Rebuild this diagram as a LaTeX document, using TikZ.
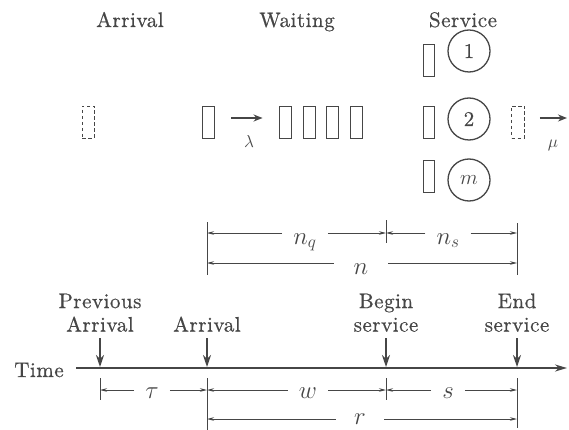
\documentclass[tikz,border=0pt]{standalone}
\usepackage{fontspec}
\usetikzlibrary{arrows.meta}
\newfontfamily\labfont{lmroman10-regular}[Extension=.otf, LetterSpace=2.5, FakeBold=0.6]
\definecolor{ink}{RGB}{70,70,70}
\begin{document}
\begin{tikzpicture}[x=1pt,y=-1pt,
  every node/.style={text=ink},
  lbl/.style={font=\fontsize{21}{23.5}\labfont, align=center},
  qbox/.style={draw=ink, line width=0.9pt, minimum width=12pt, minimum height=32pt, inner sep=0pt},
  ghost/.style={qbox, dash pattern=on 3.5pt off 2.5pt},
  server/.style={draw=ink, circle, line width=1.3pt, minimum size=42pt, inner sep=0pt, font=\fontsize{21}{22}\labfont},
  flow/.style={draw=ink, line width=1.8pt, -{Stealth[length=9pt,width=7pt]}},
  bar/.style={draw=ink, line width=0.8pt},
  dim/.style={draw=ink, line width=0.8pt, -{Stealth[length=7pt,width=3.5pt]}},
  dlbl/.style={font=\fontsize{23}{25}\selectfont, anchor=base, inner xsep=11pt},
  glbl/.style={font=\fontsize{18}{19}\selectfont, anchor=base},
  axis/.style={draw=ink, line width=1.8pt, -{Stealth[length=12pt,width=7pt]}},
  evt/.style={draw=ink, line width=1.8pt, -{Stealth[length=12pt,width=8pt]}, shorten <=2pt},
]
\useasboundingbox (0,0) rectangle (569,430);

% headers
\node[lbl, anchor=base] (hA) at (130,27) {Arrival};
\node[lbl, anchor=base] (hW) at (297,27) {Waiting};
\node[lbl, anchor=base] (hS) at (463,27) {Service};

% queue
\node[ghost] (d1) at (88,122) {};
\node[qbox] (w0) at (208,122) {};
\node[qbox] (q1) at (285,122) {};
\node[qbox] (q2) at (309,122) {};
\node[qbox] (q3) at (332.5,122) {};
\node[qbox] (q4) at (356,122) {};
\node[qbox, minimum width=11pt] (b1) at (428.5,60.5) {};
\node[qbox, minimum width=11pt] (b2) at (428.5,122.5) {};
\node[qbox, minimum width=11pt] (b3) at (428.5,176) {};
\node[server] (s1) at (469,51) {1};
\node[server] (s2) at (469,119) {2};
\node[server] (s3) at (469,180) {$m$};
\node[ghost, minimum width=13pt] (d2) at (518,122) {};
\coordinate (out) at (567,118);

\draw[flow, shorten <=17pt, shorten >=16pt] ([yshift=4pt]w0.east) -- ([yshift=4pt]q1.west);
\node[glbl] (lam) at (249,148) {$\lambda$};
\draw[flow, shorten <=15pt] ([yshift=4pt]d2.east) -- (out);
\node[glbl] (mu) at (553,148) {$\mu$};

% dimension lines (numbers)
\coordinate (L1) at (207,222); \coordinate (L2) at (207,275);
\coordinate (M1) at (386,220); \coordinate (M2) at (386,243);
\coordinate (R1) at (517,223); \coordinate (R2) at (517,275);
\draw[bar] (L1) -- (L2);
\draw[bar] (M1) -- (M2);
\draw[bar] (R1) -- (R2);
\coordinate (A1) at (207,233); \coordinate (B1) at (386,233); \coordinate (C1) at (517,233);
\coordinate (A2) at (207,263); \coordinate (C2) at (517,263);
\node[dlbl] (nq) at (305,244) {$n_q$};
\draw[dim] (nq.west |- A1) -- (A1);
\draw[dim] (nq.east |- B1) -- (B1);
\node[dlbl] (ns) at (448,244) {$n_s$};
\draw[dim] (ns.west |- B1) -- (B1);
\draw[dim] (ns.east |- C1) -- (C1);
\node[dlbl, inner xsep=20pt] (nn) at (361,274) {$n$};
\draw[dim] (nn.west |- A2) -- (A2);
\draw[dim] (nn.east |- C2) -- (C2);

% time axis
\node[lbl, anchor=base] (time) at (39,377) {Time};
\coordinate (t0) at (76,368);
\coordinate (t1) at (567,368);
\draw[axis] (t0) -- (t1);

\node[lbl, anchor=south, inner ysep=4pt] (ePrev) at (100,336) {Previous\\Arrival};
\node[lbl, anchor=south, inner ysep=4pt] (eArr) at (207,336) {Arrival};
\node[lbl, anchor=south, inner ysep=4pt] (eBeg) at (386,336) {Begin\\service};
\node[lbl, anchor=south, inner ysep=4pt] (eEnd) at (517,336) {End\\service};
\coordinate (a1) at (100,367); \coordinate (a2) at (207,367);
\coordinate (a3) at (386,367); \coordinate (a4) at (517,367);
\draw[evt] (ePrev.south) -- (a1);
\draw[evt] (eArr.south) -- (a2);
\draw[evt] (eBeg.south) -- (a3);
\draw[evt] (eEnd.south) -- (a4);

% dimension lines (times)
\draw[bar] (100,378) coordinate (P1) -- (100,400) coordinate (P2);
\draw[bar] (207,378) coordinate (Q1) -- (207,430) coordinate (Q2);
\draw[bar] (386,378) coordinate (S1) -- (386,400) coordinate (S2);
\draw[bar] (517,378) coordinate (E1) -- (517,428) coordinate (E2);
\coordinate (p3) at (100,390); \coordinate (q3) at (207,390);
\coordinate (s3) at (386,390); \coordinate (e3) at (517,390);
\coordinate (q4) at (207,419); \coordinate (e4) at (517,419);
\node[dlbl] (tau) at (152,398) {$\tau$};
\draw[dim] (tau.west |- p3) -- (p3);
\draw[dim] (tau.east |- q3) -- (q3);
\node[dlbl] (ww) at (308,398) {$w$};
\draw[dim] (ww.west |- q3) -- (q3);
\draw[dim] (ww.east |- s3) -- (s3);
\node[dlbl] (ss) at (448,398) {$s$};
\draw[dim] (ss.west |- s3) -- (s3);
\draw[dim] (ss.east |- e3) -- (e3);
\node[dlbl, inner xsep=18pt, inner ysep=0pt] (rr) at (360,424) {$r$};
\draw[dim] (rr.west |- q4) -- (q4);
\draw[dim] (rr.east |- e4) -- (e4);
\end{tikzpicture}
\end{document}
